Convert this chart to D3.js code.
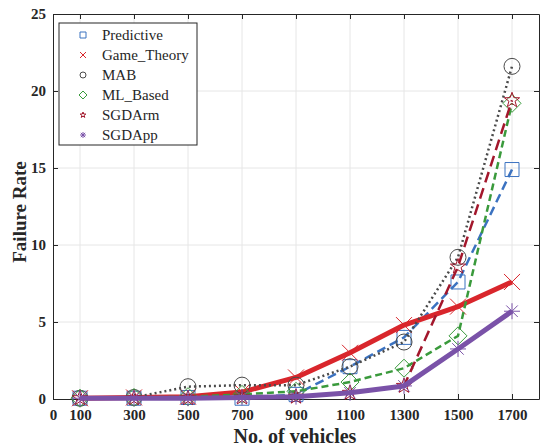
<!DOCTYPE html>
<html>
<head>
<meta charset="utf-8">
<script src="https://cdn.jsdelivr.net/npm/d3@7"></script>
<style>
  body { margin: 0; background: #fff; }
  text { font-family: "Liberation Serif", "Times New Roman", serif; }
</style>
</head>
<body>
<div id="chart"></div>
<script>
var width = 543, height = 447;
var plotLeft = 53, plotRight = 539, plotTop = 14, plotBottom = 399;

var vehicles = [100, 300, 500, 700, 900, 1100, 1300, 1500, 1700];
var xTicks = [0, 100, 300, 500, 700, 900, 1100, 1300, 1500, 1700];
var yTicks = [0, 5, 10, 15, 20, 25];

var predictive = [0.05, 0.05, 0.1, 0.05, 0.3, 2.1, 4.0, 7.6, 14.9];
var gameTheory = [0.05, 0.1, 0.15, 0.45, 1.4, 3.0, 4.8, 6.0, 7.6];
var mab = [0.05, 0.1, 0.8, 0.9, 0.9, 2.1, 3.7, 9.2, 21.6];
var mlBased = [0.05, 0.1, 0.15, 0.3, 0.5, 1.1, 2.0, 4.1, 19.2];
var sgdArm = [0.05, 0.05, 0.05, 0.1, 0.15, 0.4, 0.85, 8.6, 19.4];
var sgdApp = [0.05, 0.05, 0.05, 0.1, 0.15, 0.4, 0.85, 3.25, 5.7];

var seriesNames = ['Predictive', 'Game_Theory', 'MAB', 'ML_Based', 'SGDArm', 'SGDApp'];
var seriesValues = [predictive, gameTheory, mab, mlBased, sgdArm, sgdApp];

var styles = [
  {color: '#3b72c0', width: 2.5, dash: '9,5', marker: 'square', size: 7},
  {color: '#d9262c', width: 5, dash: null, marker: 'x', size: 8},
  {color: '#4a4a4a', width: 2.5, dash: '2,3', marker: 'circle', size: 8},
  {color: '#3a9a3c', width: 2.5, dash: '7,4', marker: 'diamond', size: 9},
  {color: '#a3172c', width: 2.5, dash: '11,6', marker: 'star', size: 8},
  {color: '#7a52a8', width: 5, dash: null, marker: 'asterisk', size: 8}
];

function markerPath(type, s) {
  if (type === 'square') return 'M' + (-s) + ',' + (-s) + 'H' + s + 'V' + s + 'H' + (-s) + 'Z';
  if (type === 'circle') return 'M' + s + ',0A' + s + ',' + s + ' 0 1,1 ' + (-s) + ',0A' + s + ',' + s + ' 0 1,1 ' + s + ',0Z';
  if (type === 'diamond') return 'M0,' + (-s) + 'L' + s + ',0L0,' + s + 'L' + (-s) + ',0Z';
  if (type === 'x') return 'M' + (-s) + ',' + (-s) + 'L' + s + ',' + s + 'M' + (-s) + ',' + s + 'L' + s + ',' + (-s);
  if (type === 'asterisk') {
    var d = s * 0.72;
    return 'M0,' + (-s) + 'V' + s + 'M' + (-s) + ',0H' + s +
      'M' + (-d) + ',' + (-d) + 'L' + d + ',' + d + 'M' + (-d) + ',' + d + 'L' + d + ',' + (-d);
  }
  if (type === 'star') {
    var p = [];
    for (var i = 0; i < 10; i++) {
      var r = i % 2 === 0 ? s : s * 0.4;
      var a = -Math.PI / 2 + i * Math.PI / 5;
      p.push([r * Math.cos(a), r * Math.sin(a)]);
    }
    return 'M' + p.map(function(q) { return q[0].toFixed(2) + ',' + q[1].toFixed(2); }).join('L') + 'Z';
  }
}

var svg = d3.select('#chart')
  .append('svg')
  .attr('width', width)
  .attr('height', height);

var xScale = d3.scaleLinear().domain([0, 1800]).range([plotLeft, plotRight]);
var yScale = d3.scaleLinear().domain([0, 25]).range([plotBottom, plotTop]);

// grid
svg.append('g').selectAll('line')
  .data(xTicks.slice(1))
  .enter().append('line')
  .attr('x1', d => xScale(d)).attr('x2', d => xScale(d))
  .attr('y1', plotTop).attr('y2', plotBottom)
  .attr('stroke', '#e6e6e6').attr('stroke-width', 1);
svg.append('g').selectAll('line')
  .data(yTicks.slice(1, -1))
  .enter().append('line')
  .attr('x1', plotLeft).attr('x2', plotRight)
  .attr('y1', d => yScale(d)).attr('y2', d => yScale(d))
  .attr('stroke', '#e6e6e6').attr('stroke-width', 1);

// axes
var xAxis = svg.append('g')
  .attr('transform', 'translate(0,' + plotBottom + ')')
  .call(d3.axisBottom(xScale).tickValues(xTicks).tickFormat(d3.format('d')).tickSizeInner(-5).tickSizeOuter(0).tickPadding(10));
var xAxisTop = svg.append('g')
  .attr('transform', 'translate(0,' + plotTop + ')')
  .call(d3.axisTop(xScale).tickValues(xTicks.slice(1)).tickSizeInner(-5).tickSizeOuter(0).tickFormat(''));
var yAxis = svg.append('g')
  .attr('transform', 'translate(' + plotLeft + ',0)')
  .call(d3.axisLeft(yScale).tickValues(yTicks).tickFormat(d3.format('d')).tickSizeInner(-5).tickSizeOuter(0).tickPadding(7));
var yAxisRight = svg.append('g')
  .attr('transform', 'translate(' + plotRight + ',0)')
  .call(d3.axisRight(yScale).tickValues(yTicks).tickSizeInner(-5).tickSizeOuter(0).tickFormat(''));

[xAxis, xAxisTop, yAxis, yAxisRight].forEach(function(g) {
  g.selectAll('path').attr('stroke', '#262626');
  g.selectAll('line').attr('stroke', '#262626');
  g.selectAll('text')
    .attr('fill', '#262626')
    .style('font-family', '"Liberation Serif", serif')
    .style('font-weight', 'bold')
    .style('font-size', '15px');
});

// series
var line = d3.line()
  .x((d, i) => xScale(vehicles[i]))
  .y(d => yScale(d));

seriesValues.forEach(function(vals, k) {
  var st = styles[k];
  var g = svg.append('g');
  g.append('path')
    .datum(vals)
    .attr('d', line)
    .attr('fill', 'none')
    .attr('stroke', st.color)
    .attr('stroke-width', st.width)
    .attr('stroke-dasharray', st.dash)
    .attr('stroke-linejoin', 'round');
  g.selectAll('path.m')
    .data(vals)
    .enter().append('path')
    .attr('class', 'm')
    .attr('transform', (d, i) => 'translate(' + xScale(vehicles[i]) + ',' + yScale(d) + ')')
    .attr('d', markerPath(st.marker, st.size))
    .attr('fill', 'none')
    .attr('stroke', st.color)
    .attr('stroke-width', 1);
});

// legend
var legend = svg.append('g');
legend.append('rect')
  .attr('x', 59).attr('y', 23)
  .attr('width', 138).attr('height', 122)
  .attr('fill', '#fff')
  .attr('stroke', '#262626')
  .attr('stroke-width', 1);
seriesNames.forEach(function(name, k) {
  var y = 35 + k * 20;
  legend.append('path')
    .attr('transform', 'translate(83,' + y + ')')
    .attr('d', markerPath(styles[k].marker, styles[k].marker === 'diamond' ? 4 : 3))
    .attr('fill', 'none')
    .attr('stroke', styles[k].color)
    .attr('stroke-width', 1);
  legend.append('text')
    .attr('x', 102).attr('y', y)
    .attr('dy', '0.35em')
    .attr('fill', '#262626')
    .style('font-size', '15px')
    .text(name);
});

// axis titles
svg.append('text')
  .attr('x', 295)
  .attr('y', 443)
  .attr('text-anchor', 'middle')
  .attr('fill', '#262626')
  .style('font-size', '20px')
  .style('font-weight', 'bold')
  .text('No. of vehicles');
svg.append('text')
  .attr('transform', 'translate(26,212) rotate(-90)')
  .attr('text-anchor', 'middle')
  .attr('fill', '#262626')
  .style('font-size', '19px')
  .style('font-weight', 'bold')
  .text('Failure Rate');
</script>
</body>
</html>
